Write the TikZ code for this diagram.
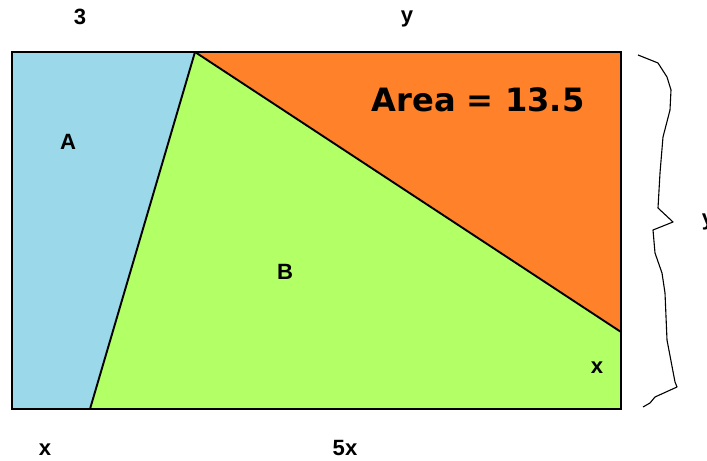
\documentclass[tikz,border=0pt]{standalone}
\usepackage{fontspec}
\setmainfont{Liberation Sans}
\newfontfamily\dejavu{DejaVu Sans}
\usepackage{tikz}
\usetikzlibrary{positioning,calc}
\definecolor{regA}{RGB}{154,216,234}
\definecolor{regB}{RGB}{178,255,102}
\definecolor{regC}{RGB}{255,130,42}
\tikzset{
  region/.style ={draw=black,line width=1.9pt,line join=miter},
  lbl/.style    ={font=\fontsize{22}{26}\selectfont\bfseries,inner sep=0pt},
  bigtxt/.style ={font=\dejavu\fontsize{32}{38}\selectfont\bfseries,inner sep=0pt},
  bracestroke/.style={draw=black,line width=1.1pt,line join=round},
}
\begin{document}
\begin{tikzpicture}[x=0.035cm,y=-0.035cm]
  \useasboundingbox (0,0) rectangle (707,461);
  % corners of the rectangle and the cut points
  \coordinate (tl) at (12,52);
  \coordinate (tr) at (621,52);
  \coordinate (br) at (621,409);
  \coordinate (bl) at (12,409);
  \coordinate (top) at (195,52);
  \coordinate (bot) at (90,409);
  \coordinate (side) at (621,332);
  \fill[regA] (tl)--(top)--(bot)--(bl)--cycle;
  \fill[regB] (top)--(side)--(br)--(bot)--cycle;
  \fill[regC] (top)--(tr)--(side)--cycle;
  \draw[region] (tl) rectangle (br);
  \draw[region] (top)--(bot);
  \draw[region] (top)--(side);
  % hand drawn brace
  \draw[bracestroke] (638,55)--(658,63)--(667,77)--(671,90)--(670,110)--(663,137)
     --(660,173)--(658,208)--(673,222)--(653,230)--(655,253)--(662,273)--(665,293)
     --(667,340)--(675,382)--(677,387)--(655,397)--(650,403)--(643,407);
  % labels
  \node[lbl] (three) at (80,17) {3};
  \node[lbl] (ytop) at (407,19) {y};
  \node[lbl] (yside) at (708,222) {y};
  \node[bigtxt] (area) at (478,100) {Area = 13.5};
  \node[lbl] (labA) at (68,142) {A};
  \node[lbl] (labB) at (285,272) {B};
  \node[lbl] (xin) at (597,368) {x};
  \node[lbl] (xbot) at (45,450) {x};
  \node[lbl] (fivex) at (345,448) {5x};
\end{tikzpicture}
\end{document}
